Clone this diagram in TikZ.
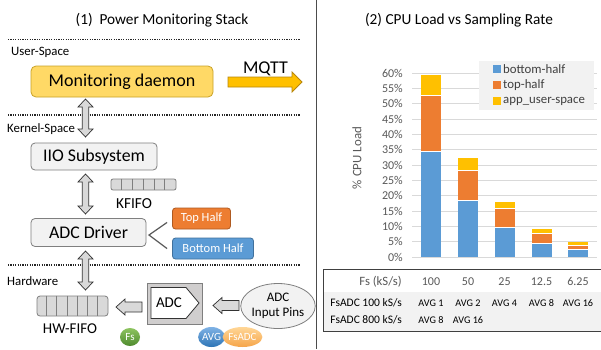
\documentclass[tikz,border=0pt]{standalone}
\usepackage{fontspec}
\setmainfont{Carlito}
\usetikzlibrary{shapes.geometric,calc}
\definecolor{daemonfill}{HTML}{FFD966}
\definecolor{daemondraw}{HTML}{C9A227}
\definecolor{mqttfill}{HTML}{FFC000}
\definecolor{mqttdraw}{HTML}{B8860B}
\definecolor{boxfill}{HTML}{F2F2F2}
\definecolor{boxdraw}{HTML}{7F7F7F}
\definecolor{arrfill}{HTML}{D9D9D9}
\definecolor{cblue}{HTML}{5B9BD5}
\definecolor{cbluedraw}{HTML}{41719C}
\definecolor{corange}{HTML}{ED7D31}
\definecolor{corangedraw}{HTML}{AE5A21}
\definecolor{cyellow}{HTML}{FFC000}
\definecolor{gridgray}{HTML}{D9D9D9}
\definecolor{txtgray}{HTML}{595959}
\definecolor{legtxt}{HTML}{404040}
\definecolor{adcfill}{HTML}{D0CECE}
\newcommand\blkleft[3]{\draw[blockarr] (#1,#3) -- ({#1+9},{#3-8}) -- ({#1+9},{#3-5}) -- (#2,{#3-5}) -- (#2,{#3+5}) -- ({#1+9},{#3+5}) -- ({#1+9},{#3+8}) -- cycle;}
\newcommand\blkvert[3]{\draw[blockarr] (#1,#2) -- ({#1+7.5},{#2+8}) -- ({#1+3.2},{#2+8}) -- ({#1+3.2},{#3-8}) -- ({#1+7.5},{#3-8}) -- (#1,#3) -- ({#1-7.5},{#3-8}) -- ({#1-3.2},{#3-8}) -- ({#1-3.2},{#2+8}) -- ({#1-7.5},{#2+8}) -- cycle;}
\tikzset{
  sepline/.style={draw=black!85, line width=1.1pt, dash pattern=on 1.1pt off 1.3pt},
  layerlbl/.style={anchor=base west, inner sep=0pt, font=\fontsize{12.8}{15}\selectfont},
  titlelbl/.style={anchor=base, inner sep=0pt, font=\fontsize{15.3}{18}\selectfont},
  graybox/.style={draw=boxdraw, fill=boxfill, rounded corners=4pt, line width=0.8pt, inner sep=0pt, font=\fontsize{17.8}{20}\selectfont},
  halfbox/.style={rounded corners=3pt, line width=0.8pt, inner sep=0pt, text=white, minimum height=21pt, font=\fontsize{12.5}{15}\selectfont},
  blockarr/.style={draw=black!80, fill=arrfill, line width=0.7pt, line join=miter},
  regbox/.style={draw=boxdraw, fill=arrfill, line width=0.8pt, rounded corners=2pt, inner sep=0pt},
  regline/.style={draw=boxdraw, line width=0.8pt},
  dot/.style={ellipse, inner sep=0pt, text=white, font=\fontsize{11}{13}\selectfont},
  gridline/.style={draw=gridgray, line width=0.6pt},
  ticklbl/.style={anchor=east, inner sep=0pt, text=txtgray, font=\fontsize{12}{14}\selectfont},
  legtext/.style={anchor=west, inner sep=0pt, text=legtxt, font=\fontsize{12.8}{15}\selectfont},
  rowhead/.style={anchor=base east, inner sep=0pt, font=\fontsize{11.5}{14}\selectfont},
  rowval/.style={anchor=base, inner sep=0pt, font=\fontsize{10.2}{12}\selectfont},
  barseg/.style={draw=white, line width=0.4pt},
}
\begin{document}
\begin{tikzpicture}[x=1pt,y=-1pt]
\useasboundingbox (0,0) rectangle (601,349);
\fill[white] (0,0) rectangle (601,349);

% ---------------- left panel ----------------
\node[titlelbl] (t1) at (162,24.5) {(1)\ \ Power Monitoring Stack};
\draw[sepline] (8,39.5) -- (300,39.5);
\draw[sepline] (8,115) -- (300,115);
\draw[sepline] (8,265) -- (300,265);
\node[layerlbl] (ul) at (11,55) {User-Space};
\node[layerlbl] (kl) at (7,132) {Kernel-Space};
\node[layerlbl] (hl) at (7,285) {Hardware};

\node[graybox, draw=daemondraw, fill=daemonfill, rounded corners=5pt, minimum width=182pt, minimum height=31pt, font=\fontsize{18}{21}\selectfont] (daemon) at (122,81.5) {Monitoring daemon};
\draw[draw=mqttdraw, fill=mqttfill, line width=0.8pt] (228,77) -- (292,77) -- (292,72) -- (302,82) -- (292,92) -- (292,87) -- (228,87) -- cycle;
\node[anchor=base, inner sep=0pt, font=\fontsize{18}{21}\selectfont] (mqtt) at (265.5,73) {MQTT};

\node[graybox, minimum width=126pt, minimum height=27pt] (iio) at (94,156.5) {IIO Subsystem};
\node[graybox, minimum width=115pt, minimum height=28pt] (driver) at (88.5,232.5) {ADC Driver};

\blkvert{85.5}{99}{137}
\blkvert{85.5}{174}{214}
\blkvert{85.5}{251}{290}

% KFIFO
\node[regbox, minimum width=65pt, minimum height=11pt] (kfifo) at (143.5,184.5) {};
\foreach \i in {1,...,5} \draw[regline] ($(kfifo.north west)+({\i*65/6},0)$) -- ($(kfifo.south west)+({\i*65/6},0)$);
\node[anchor=base, inner sep=0pt, font=\fontsize{15.3}{18}\selectfont] (kfifol) at (134,208) {KFIFO};

% top / bottom half
\node[halfbox, fill=corange, draw=corangedraw, minimum width=58pt] (tophalf) at (201.5,218.5) {Top Half};
\node[halfbox, fill=cblue, draw=cbluedraw, minimum width=81pt] (bothalf) at (213,248.5) {Bottom Half};
\coordinate (split) at (149,235);
\coordinate (tend) at ($(tophalf.south west)+(-5,-7)$);
\coordinate (bend) at ($(bothalf.north west)+(-5,11)$);
\draw[draw=black!65, line width=1.2pt] (tend) -- (split) -- (bend);

% HW FIFO
\node[regbox, minimum width=71pt, minimum height=20pt, rounded corners=3pt] (hwfifo) at (72.5,306) {};
\foreach \i in {1,...,6} \draw[regline] ($(hwfifo.north west)+({\i*71/7},0)$) -- ($(hwfifo.south west)+({\i*71/7},0)$);
\node[anchor=base, inner sep=0pt, font=\fontsize{15}{18}\selectfont] (hwl) at (70,333) {HW-FIFO};

% ADC
\node[draw=boxdraw, fill=adcfill, line width=0.8pt, minimum width=55pt, minimum height=41pt, inner sep=0pt] (adcbox) at (175,303.5) {};
\draw[fill=white, draw=black!80, line width=0.8pt] (151,287.5) -- (186,287.5) -- (199,303) -- (186,318.5) -- (151,318.5) -- cycle;
\node[inner sep=0pt, font=\fontsize{15}{18}\selectfont] (adct) at (169,303) {ADC};

\node[ellipse, draw=boxdraw, fill=boxfill, line width=0.8pt, minimum width=60pt, minimum height=45pt, inner sep=0pt, align=center, font=\fontsize{13}{15}\selectfont] (pins) at (278,306) {ADC\\Input Pins};

\blkleft{116}{142}{307}
\blkleft{213}{239}{305.5}

\node[dot, minimum width=20pt, minimum height=18pt, top color={rgb,255:red,142;green,196;blue,96}, bottom color={rgb,255:red,78;green,138;blue,46}] (fs) at (130,337) {Fs};
\node[dot, minimum width=25pt, minimum height=20pt, top color={rgb,255:red,127;green,178;blue,229}, bottom color={rgb,255:red,46;green,117;blue,182}] (avg) at (211.5,337) {AVG};
\node[dot, minimum width=35pt, minimum height=20pt, top color={rgb,255:red,255;green,214;blue,150}, bottom color={rgb,255:red,245;green,165;blue,74}] (fsadc) at (242.5,337) {FsADC};

% divider
\draw[draw=black!70, line width=1pt] (316,0) -- (316,349);

% ---------------- right panel ----------------
\node[titlelbl] (t2) at (459,24) {(2) CPU Load vs Sampling Rate};

\foreach \v in {0,5,...,60} {
  \draw[gridline] (412,{257-3.0667*\v}) -- (597,{257-3.0667*\v});
  \node[ticklbl] at (403,{257-3.0667*\v}) {\v\%};
}
\node[rotate=90, inner sep=0pt, text=txtgray, font=\fontsize{12.9}{15}\selectfont] (ylab) at (357,158) {\% CPU Load};

\foreach \xc/\b/\t/\a in {431/34.6/52.8/59.3, 468/18.6/28.4/32.3, 504.5/9.8/16.0/17.9, 541.5/4.6/7.8/9.1, 578/2.6/3.9/4.9} {
  \fill[cblue] ({\xc-10},257) rectangle ({\xc+10},{257-3.0667*\b});
  \fill[corange] ({\xc-10},{257-3.0667*\b}) rectangle ({\xc+10},{257-3.0667*\t});
  \fill[cyellow] ({\xc-10},{257-3.0667*\t}) rectangle ({\xc+10},{257-3.0667*\a});
  \draw[barseg] ({\xc-10},{257-3.0667*\b}) -- ({\xc+10},{257-3.0667*\b});
  \draw[barseg] ({\xc-10},{257-3.0667*\t}) -- ({\xc+10},{257-3.0667*\t});
}

% legend
\node[fill=boxfill, minimum width=115pt, minimum height=49pt, inner sep=0pt] (legend) at (536.5,85.5) {};
\fill[cblue] (492.5,65) rectangle (500.5,73);
\fill[corange] (492.5,81) rectangle (500.5,89);
\fill[cyellow] (492.5,97) rectangle (500.5,105);
\node[legtext] (lg1) at (503,69) {bottom-half};
\node[legtext] (lg2) at (503,85) {top-half};
\node[legtext] (lg3) at (503,101) {app\_user-space};

% table
\fill[white] (323,269) rectangle (601,292);
\fill[boxfill] (323,292) rectangle (601,331);
\draw[draw=black!75, line width=0.8pt] (601,331) -- (323.5,331) -- (323.5,269);
\draw[draw=black!75, line width=1.6pt] (323,269.5) -- (601,269.5);
\node[rowhead, text=txtgray, font=\fontsize{12.7}{15}\selectfont] (fsh) at (402,285) {Fs (kS/s)};
\foreach \xc/\lab in {431/100, 468/50, 504.5/25, 541.5/12.5, 578/6.25}
  \node[rowval, text=txtgray, font=\fontsize{12}{14}\selectfont] at (\xc,285) {\lab};
\node[rowhead] (r1) at (402,306) {FsADC 100 kS/s};
\node[rowhead] (r2) at (402,323) {FsADC 800 kS/s};
\foreach \xc/\lab in {431/AVG 1, 468/AVG 2, 504.5/AVG 4, 541.5/AVG 8, 578/AVG 16}
  \node[rowval] at (\xc,306) {\lab};
\foreach \xc/\lab in {431/AVG 8, 468/AVG 16}
  \node[rowval] at (\xc,323) {\lab};
\end{tikzpicture}
\end{document}
